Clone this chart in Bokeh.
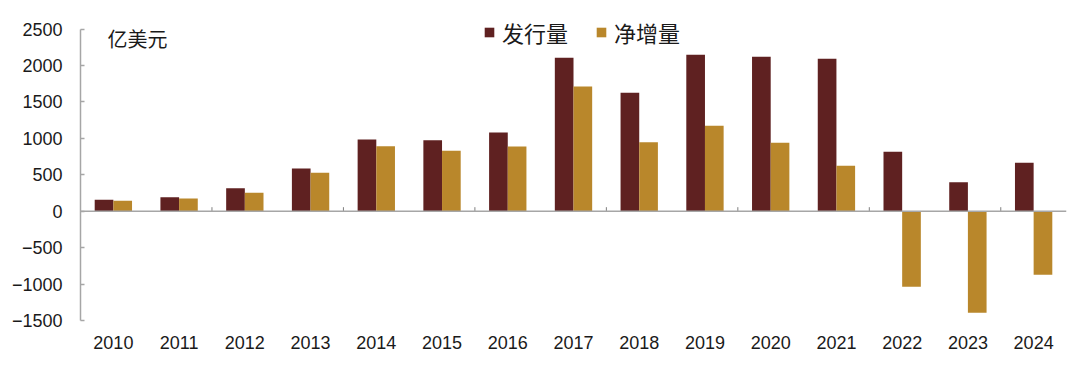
from bokeh.plotting import figure
from bokeh.models import ColumnDataSource, Range1d, FixedTicker, Span, Legend, LegendItem, Label
from bokeh.embed import file_html
from bokeh.resources import INLINE

years = ["2010", "2011", "2012", "2013", "2014", "2015", "2016", "2017",
         "2018", "2019", "2020", "2021", "2022", "2023", "2024"]
issuance = [156, 192, 316, 586, 984, 974, 1080, 2105, 1624, 2146, 2118, 2091, 815, 398, 664]
net_increase = [143, 174, 252, 527, 892, 829, 888, 1711, 947, 1172, 938, 623, -1037, -1394, -873]
y_ticks = [-1500, -1000, -500, 0, 500, 1000, 1500, 2000, 2500]

DARK = "#5F2121"
GOLD = "#B9872B"
AXIS = "#A6A6A6"
NUM_FONT = "Liberation Sans"
CJK_FONT = "Noto Sans CJK SC"

centers = [i + 0.5 for i in range(len(years))]
half = 0.142
src = ColumnDataSource(dict(
    x1=[c - half for c in centers], x2=[c + half for c in centers],
    issuance=issuance, net=net_increase))

p = figure(frame_width=986, frame_height=310, output_backend="svg", toolbar_location=None,
           x_range=Range1d(0, len(years)), y_range=Range1d(-1500, 2754),
           min_border_left=80, min_border_right=6, min_border_top=10, min_border_bottom=38)
p.outline_line_color = None
p.xgrid.grid_line_color = None
p.ygrid.grid_line_color = None
p.background_fill_color = "white"

r1 = p.vbar(x="x1", top="issuance", width=0.284, source=src, fill_color=DARK, line_color=None)
r2 = p.vbar(x="x2", top="net", width=0.284, source=src, fill_color=GOLD, line_color=None)

# zero baseline and its category-boundary ticks
p.add_layout(Span(location=0, dimension="width", line_color=AXIS, line_width=1.5))
bx = [2, 4, 6, 8, 10, 12, 14]
p.segment(x0=bx, x1=bx, y0=[0] * len(bx), y1=[55] * len(bx), line_color="#7f7f7f", line_width=1)

# x axis (labels only)
xa = p.xaxis[0]
xa.ticker = FixedTicker(ticks=centers)
xa.major_label_overrides = {c: y for c, y in zip(centers, years)}
xa.axis_line_color = None
xa.major_tick_line_color = None
xa.minor_tick_line_color = None
xa.major_label_standoff = 9
xa.major_label_text_font = NUM_FONT
xa.major_label_text_font_size = "18px"
xa.major_label_text_color = "#1a1a1a"

# y axis
ya = p.yaxis[0]
ya.ticker = FixedTicker(ticks=y_ticks)
ya.bounds = (-1500, 2500)
ya.axis_line_color = AXIS
ya.axis_line_width = 1.5
ya.major_tick_line_color = AXIS
ya.major_tick_line_width = 1.5
ya.major_tick_in = 4
ya.major_tick_out = 0
ya.minor_tick_line_color = None
ya.major_label_standoff = 18
ya.major_label_text_font = NUM_FONT
ya.major_label_text_font_size = "18px"
ya.major_label_text_color = "#1a1a1a"

# unit label
p.add_layout(Label(x=0.41, y=2370, text="亿美元", text_font=CJK_FONT,
                   text_font_size="20px", text_color="#1a1a1a", text_baseline="middle"))

legend = Legend(items=[LegendItem(label="发行量", renderers=[r1]),
                       LegendItem(label="净增量", renderers=[r2])],
                orientation="horizontal", location=(403, 272),
                glyph_width=12, glyph_height=12, spacing=27, padding=0, margin=0,
                label_standoff=7, label_text_font=CJK_FONT, label_text_font_size="22px",
                label_text_color="#1a1a1a", background_fill_alpha=0, border_line_color=None)
p.add_layout(legend)

open("out.html", "w").write(file_html(p, INLINE))
